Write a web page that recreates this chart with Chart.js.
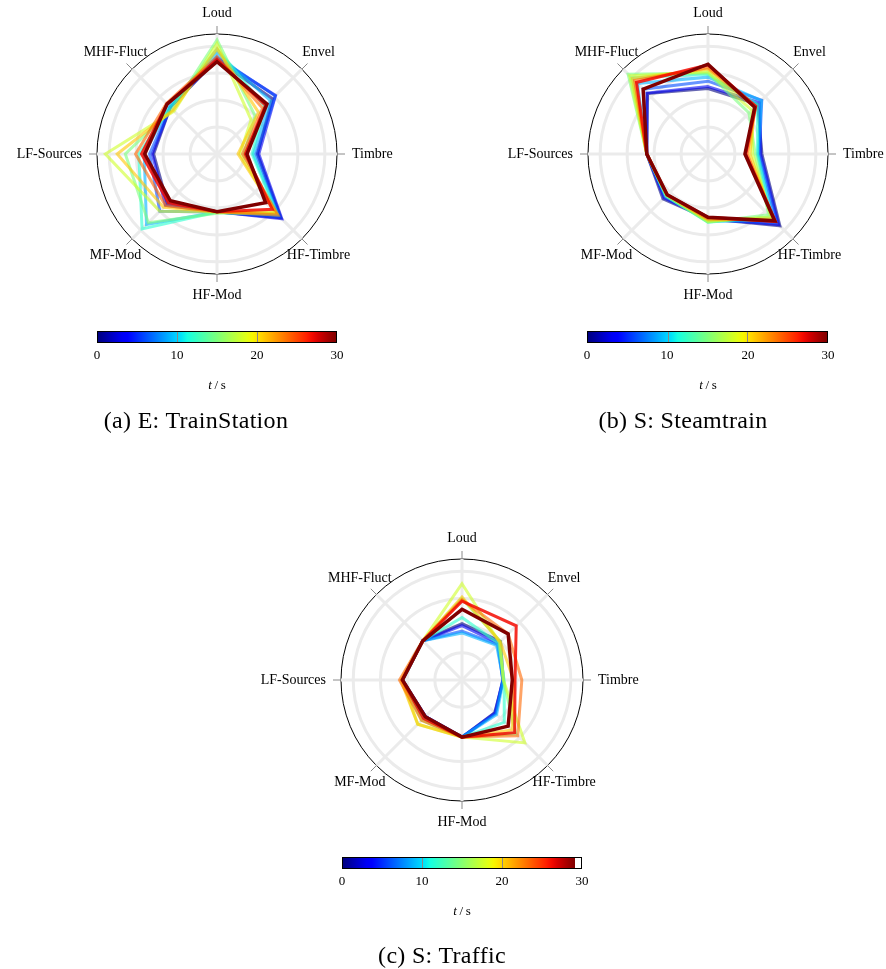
<!DOCTYPE html>
<html>
<head>
<meta charset="utf-8">
<script src="https://cdn.jsdelivr.net/npm/chart.js@4.4.1/dist/chart.umd.min.js"></script>
<style>
  body { margin: 0; background: #fff; font-family: "Liberation Serif", serif; }
  #page { position: relative; width: 886px; height: 969px; overflow: hidden; }
  canvas { position: absolute; }
  .cbar { position: absolute; height: 12px; border: 1px solid #000; box-sizing: border-box; }
  .cbtick { position: absolute; top: 0; width: 1px; height: 10px; background: #888; }
  .lbl { position: absolute; font-size: 13px; color: #000; transform: translate(-50%, -50%); white-space: nowrap; will-change: transform; }
  .cap { position: absolute; font-size: 24px; letter-spacing: 0.3px; color: #000; transform: translate(-50%, -50%); white-space: nowrap; will-change: transform; }
</style>
</head>
<body>
<div id="page"></div>
<script>
// axes of the radar, clockwise from the top
const axes = ['Loud', 'Envel', 'Timbre', 'HF-Timbre', 'HF-Mod', 'MF-Mod', 'LF-Sources', 'MHF-Fluct'];
// time of each frame (s)
const times = [0, 3, 6, 9, 12, 15, 18, 21, 24, 27, 30];
const cbarTicks = [0, 10, 20, 30];

// one row per time frame, values in axis order
const trainStation = [
  [3.50, 2.90, 1.50, 3.35, 2.14, 2.60, 2.35, 2.45],
  [3.55, 3.07, 1.55, 3.40, 2.14, 2.70, 2.40, 2.45],
  [3.60, 3.05, 1.45, 3.30, 2.15, 3.00, 2.50, 2.45],
  [3.75, 2.80, 1.35, 3.20, 2.15, 3.70, 2.70, 2.50],
  [3.90, 2.50, 1.30, 3.15, 2.15, 3.93, 2.90, 2.45],
  [4.23, 2.00, 1.00, 3.10, 2.20, 3.60, 3.40, 2.35],
  [4.10, 1.79, 0.85, 3.05, 2.15, 3.00, 4.14, 2.25],
  [3.90, 2.18, 0.78, 3.10, 2.15, 2.80, 3.70, 2.30],
  [3.60, 2.40, 0.95, 3.20, 2.14, 2.70, 3.02, 2.65],
  [3.50, 2.55, 1.05, 2.90, 2.14, 2.55, 2.80, 2.62],
  [3.42, 2.62, 1.11, 2.55, 2.14, 2.45, 2.68, 2.62]
];
const steamtrain = [
  [2.43, 2.60, 2.00, 3.77, 2.40, 2.36, 2.27, 3.17],
  [2.50, 2.70, 1.95, 3.70, 2.40, 2.30, 2.27, 3.20],
  [2.70, 2.82, 1.90, 3.60, 2.45, 2.25, 2.27, 3.40],
  [2.85, 2.80, 1.85, 3.45, 2.50, 2.20, 2.27, 3.70],
  [2.96, 2.60, 1.83, 3.30, 2.53, 2.20, 2.27, 4.00],
  [3.00, 2.15, 1.75, 3.19, 2.53, 2.20, 2.27, 4.19],
  [3.05, 2.30, 1.65, 3.30, 2.50, 2.15, 2.27, 4.10],
  [3.15, 2.45, 1.55, 3.40, 2.45, 2.15, 2.27, 3.96],
  [3.20, 2.50, 1.45, 3.50, 2.40, 2.14, 2.27, 3.85],
  [3.30, 2.50, 1.40, 3.54, 2.35, 2.14, 2.27, 3.75],
  [3.33, 2.45, 1.37, 3.50, 2.35, 2.14, 2.27, 3.40]
];
const traffic = [
  [2.07, 2.00, 1.52, 1.70, 2.10, 1.90, 2.19, 2.04],
  [2.00, 1.90, 1.50, 1.72, 2.10, 1.90, 2.19, 2.04],
  [1.80, 1.85, 1.50, 1.75, 2.10, 1.90, 2.19, 2.04],
  [1.73, 1.80, 1.52, 1.80, 2.10, 1.92, 2.19, 2.04],
  [2.30, 1.90, 1.55, 2.20, 2.10, 2.00, 2.20, 2.04],
  [3.00, 2.00, 1.52, 2.80, 2.10, 2.10, 2.20, 2.04],
  [3.54, 1.95, 1.52, 3.27, 2.10, 2.30, 2.20, 2.04],
  [3.05, 1.99, 1.90, 2.60, 2.10, 2.30, 2.25, 2.04],
  [2.95, 2.40, 2.20, 2.90, 2.10, 2.10, 2.30, 2.04],
  [2.90, 2.82, 1.95, 2.74, 2.10, 2.00, 2.20, 2.04],
  [2.60, 2.40, 1.85, 2.40, 2.10, 1.91, 2.19, 2.04]
];

// matplotlib style jet colormap
function jet(v) {
  const seg = pts => {
    for (let k = 1; k < pts.length; k++) {
      if (v <= pts[k][0]) {
        const [x0, y0] = pts[k - 1], [x1, y1] = pts[k];
        return y0 + (y1 - y0) * (v - x0) / (x1 - x0);
      }
    }
    return pts[pts.length - 1][1];
  };
  const r = seg([[0, 0], [0.35, 0], [0.66, 1], [0.89, 1], [1, 0.5]]);
  const g = seg([[0, 0], [0.125, 0], [0.375, 1], [0.64, 1], [0.91, 0], [1, 0]]);
  const b = seg([[0, 0.5], [0.11, 1], [0.34, 1], [0.65, 0], [1, 0]]);
  return [r, g, b].map(c => Math.round(c * 255));
}

const page = document.getElementById('page');

// tick marks outside the circle and the axis names
const axisDecor = {
  id: 'axisDecor',
  afterDraw(chart) {
    const s = chart.scales.r, ctx = chart.ctx;
    const R = s.drawingArea;
    ctx.save();
    ctx.strokeStyle = '#8a8a8a';
    ctx.lineWidth = 1;
    ctx.font = '14px "Liberation Serif"';
    ctx.fillStyle = '#000';
    ctx.textAlign = 'center';
    ctx.textBaseline = 'middle';
    axes.forEach((name, i) => {
      const a = s.getPointPosition(i, R), b = s.getPointPosition(i, R + 8);
      ctx.beginPath();
      ctx.moveTo(a.x, a.y);
      ctx.lineTo(b.x, b.y);
      ctx.stroke();
      const d = R + 15;
      const p = s.getPointPosition(i, d);
      const ux = (p.x - s.xCenter) / d, uy = (p.y - s.yCenter) / d;
      const hw = ctx.measureText(name).width / 2, hh = 6;
      const t = Math.min(Math.abs(ux) > 1e-6 ? hw / Math.abs(ux) : Infinity,
                         Math.abs(uy) > 1e-6 ? hh / Math.abs(uy) : Infinity);
      ctx.fillText(name, p.x + ux * t, p.y + uy * t);
    });
    ctx.restore();
  }
};

function radar(rows, cx, cy, R) {
  const W = 440, H = 330;
  const cv = document.createElement('canvas');
  cv.width = W; cv.height = H;
  cv.style.left = (cx - W / 2) + 'px';
  cv.style.top = (cy - H / 2) + 'px';
  page.appendChild(cv);
  const n = rows.length;
  new Chart(cv, {
    type: 'radar',
    data: {
      labels: axes,
      datasets: rows.map((row, i) => {
        const [r, g, b] = jet(times[i] / 30);
        const last = i >= n - 2;
        return {
          label: times[i] + ' s',
          data: row,
          order: -i,
          borderColor: `rgba(${r},${g},${b},${i === n - 1 ? 1 : last ? 0.85 : 0.6})`,
          borderWidth: i === n - 1 ? 3.5 : 3,
          pointRadius: 0,
          fill: false,
          tension: 0
        };
      })
    },
    options: {
      responsive: false,
      animation: false,
      layout: { padding: { left: W / 2 - R, right: W / 2 - R, top: H / 2 - R, bottom: H / 2 - R } },
      plugins: { legend: { display: false }, tooltip: { enabled: false } },
      scales: {
        r: {
          min: 0,
          max: 4.45,
          afterBuildTicks: sc => { sc.ticks = [0, 1, 2, 3, 4, 4.45].map(v => ({ value: v })); },
          ticks: { display: false },
          pointLabels: { display: false },
          grid: {
            circular: true,
            color: c => c.index === 5 ? '#000' : '#ebebeb',
            lineWidth: c => c.index === 5 ? 1 : 3
          },
          angleLines: { color: '#ebebeb', lineWidth: 3 }
        }
      }
    },
    plugins: [axisDecor]
  });
}

function colorbar(x, y, w, cut) {
  const bar = document.createElement('div');
  bar.className = 'cbar';
  bar.style.left = x + 'px';
  bar.style.top = y + 'px';
  bar.style.width = w + 'px';
  const stops = [];
  for (let k = 0; k <= 40; k++) {
    const [r, g, b] = jet(k / 40);
    stops.push(`rgb(${r},${g},${b}) ${(k / 40 * cut * 100).toFixed(2)}%`);
  }
  if (cut < 1) stops.push(`#fff ${(cut * 100).toFixed(2)}%`, '#fff 100%');
  bar.style.background = `linear-gradient(to right, ${stops.join(', ')})`;
  page.appendChild(bar);
  [10, 20].forEach(v => {
    const tk = document.createElement('div');
    tk.className = 'cbtick';
    tk.style.left = (v / 30 * (w - 2)) + 'px';
    bar.appendChild(tk);
  });
  cbarTicks.forEach(v => {
    const l = document.createElement('div');
    l.className = 'lbl';
    l.textContent = v;
    l.style.left = (x + v / 30 * w) + 'px';
    l.style.top = (y + 24) + 'px';
    page.appendChild(l);
  });
  const u = document.createElement('div');
  u.className = 'lbl';
  u.innerHTML = '<i>t</i>&#8201;/&#8201;s';
  u.style.left = (x + w / 2) + 'px';
  u.style.top = (y + 54) + 'px';
  page.appendChild(u);
}

function caption(text, x, y) {
  const c = document.createElement('div');
  c.className = 'cap';
  c.textContent = text;
  c.style.left = x + 'px';
  c.style.top = y + 'px';
  page.appendChild(c);
}

radar(trainStation, 217, 154, 120);
radar(steamtrain, 708, 154, 120);
radar(traffic, 462, 680, 121);

colorbar(97, 331, 240, 1);
colorbar(587, 331, 241, 1);
colorbar(342, 857, 240, 0.975);

caption('(a) E: TrainStation', 196, 420);
caption('(b) S: Steamtrain', 683, 420);
caption('(c) S: Traffic', 442, 955);
</script>
</body>
</html>
